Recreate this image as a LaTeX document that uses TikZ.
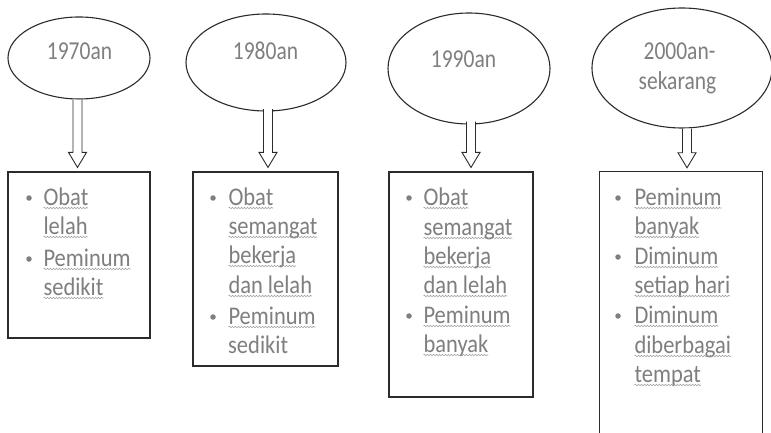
\documentclass[tikz,border=0pt]{standalone}
\usepackage{graphicx}
\usepackage{fontspec}
\setmainfont{Carlito}
\usetikzlibrary{shapes.geometric,decorations.pathmorphing,calc}

\definecolor{txtgray}{HTML}{7F7F7F}
\definecolor{inkline}{HTML}{2B2B2B}
\definecolor{wavegray}{HTML}{A0A0A0}

% slightly tall lettering
\newcommand\tall[1]{\scalebox{1}[1.13]{#1}}
\newcommand\taller[1]{\scalebox{1}[1.2]{#1}}

% word with a wavy spell-check underline
\newcommand\spell[1]{\tikz[baseline=(sw.base)]{%
  \node[inner sep=0pt,outer sep=0pt,text=txtgray] (sw) {\tall{#1}};%
  \draw[wavegray,line width=0.6pt,decorate,
        decoration={snake,amplitude=0.75pt,segment length=3pt}]
    ([yshift=-3pt]sw.base west) -- ([yshift=-3pt]sw.base east);}}

% hollow block arrow from an ellipse down to a box
\newcommand\hollow[4]{%
  \draw[hollowarrow] let \p1=(#1.south), \p2=(#2.north) in
    (\x1+#3pt-4.5pt,\y1-#4pt) -- (\x1+#3pt-4.5pt,\y2+19pt)
    -- (\x1+#3pt-9pt,\y2+19pt) -- (\x1+#3pt,\y2+4pt)
    -- (\x1+#3pt+9pt,\y2+19pt) -- (\x1+#3pt+4.5pt,\y2+19pt)
    -- (\x1+#3pt+4.5pt,\y1-#4pt);}

\tikzset{
  period/.style={ellipse,draw=inkline,line width=1.1pt,inner sep=0pt},
  yeartxt/.style={anchor=base,inner sep=0pt,text=txtgray,
    font=\fontsize{21.5}{30}\selectfont},
  listbox/.style={rectangle,draw=inkline,line width=1.1pt,inner sep=0pt},
  openbox/.style={rectangle,inner sep=0pt},
  hollowarrow/.style={draw=inkline,line width=0.9pt,fill=white,line join=miter},
  itemtxt/.style={anchor=base west,inner sep=0pt,text=txtgray,
    font=\fontsize{22.5}{29}\selectfont},
  dot/.style={circle,fill=txtgray,inner sep=0pt,minimum size=5.5pt}
}

\begin{document}
\begin{tikzpicture}[x=1pt,y=-1pt]
\useasboundingbox[fill=white] (0,0) rectangle (771,433);

% period ellipses
\node[period,minimum width=142pt,minimum height=82pt]  (e1) at (79,58)   {};
\node[period,minimum width=160pt,minimum height=97pt]  (e2) at (266,62.5) {};
\node[period,minimum width=162pt,minimum height=111pt] (e3) at (469,68.5) {};
\node[period,minimum width=180pt,minimum height=120pt] (e4) at (682,68)  {};

\node[yeartxt] (y1) at (79.5,60)  {\taller{1970an}};
\node[yeartxt] (y2) at (265.5,60) {\taller{1980an}};
\node[yeartxt] (y3) at (463.5,68) {\taller{1990an}};
\node[yeartxt] (y4a) at (679.5,60) {\taller{2000an-}};
\node[yeartxt] (y4b) at (677.5,90) {\taller{sekarang}};

% boxes
\node[listbox,minimum width=142pt,minimum height=166pt] (b1) at (79,255)    {};
\node[listbox,minimum width=145pt,minimum height=194pt] (b2) at (265.5,269) {};
\node[listbox,minimum width=144pt,minimum height=225pt] (b3) at (461,284.5) {};
\node[openbox,minimum width=162pt,minimum height=268pt] (b4) at (681,306)   {};
\draw[inkline,line width=1.1pt] (b4.south west) |- (b4.north east) -- (b4.south east);

% arrows
\hollow{e1}{b1}{-1.5}{0}
\hollow{e2}{b2}{2}{-2.5}
\hollow{e3}{b3}{2}{-3}
\hollow{e4}{b4}{5}{0}

% box 1
\node[dot] (d11) at (29,198) {};
\node[itemtxt] (t11) at (43,205) {\spell{Obat}};
\node[itemtxt] (t12) at (43,234) {\spell{lelah}};
\node[dot] (d12) at (29,259) {};
\node[itemtxt] (t13) at (43,266) {\spell{Peminum}};
\node[itemtxt] (t14) at (43,295) {\spell{sedikit}};

% box 2
\node[dot] (d21) at (213,198) {};
\node[itemtxt] (t21) at (228,205) {\spell{Obat}};
\node[itemtxt] (t22) at (228,234) {\spell{semangat}};
\node[itemtxt] (t23) at (228,263) {\spell{bekerja}};
\node[itemtxt] (t24) at (228,293) {\spell{dan lelah}};
\node[dot] (d22) at (213,317) {};
\node[itemtxt] (t25) at (228,324) {\spell{Peminum}};
\node[itemtxt] (t26) at (228,353) {\tall{sedikit}};

% box 3
\node[dot] (d31) at (409,198) {};
\node[itemtxt] (t31) at (423,205) {\spell{Obat}};
\node[itemtxt] (t32) at (423,235) {\spell{semangat}};
\node[itemtxt] (t33) at (423,264) {\spell{bekerja}};
\node[itemtxt] (t34) at (423,293) {\spell{dan lelah}};
\node[dot] (d32) at (409,316) {};
\node[itemtxt] (t35) at (423,323) {\spell{Peminum}};
\node[itemtxt] (t36) at (423,352) {\spell{banyak}};

% box 4
\node[dot] (d41) at (618,198) {};
\node[itemtxt] (t41) at (634,205) {\spell{Peminum}};
\node[itemtxt] (t42) at (634,234) {\spell{banyak}};
\node[dot] (d42) at (618,257) {};
\node[itemtxt] (t43) at (634,264) {\spell{Diminum}};
\node[itemtxt] (t44) at (634,293) {\spell{setiap hari}};
\node[dot] (d43) at (618,316) {};
\node[itemtxt] (t45) at (634,323) {\spell{Diminum}};
\node[itemtxt] (t46) at (634,353) {\spell{diberbagai}};
\node[itemtxt] (t47) at (634,382) {\spell{tempat}};
\end{tikzpicture}
\end{document}
